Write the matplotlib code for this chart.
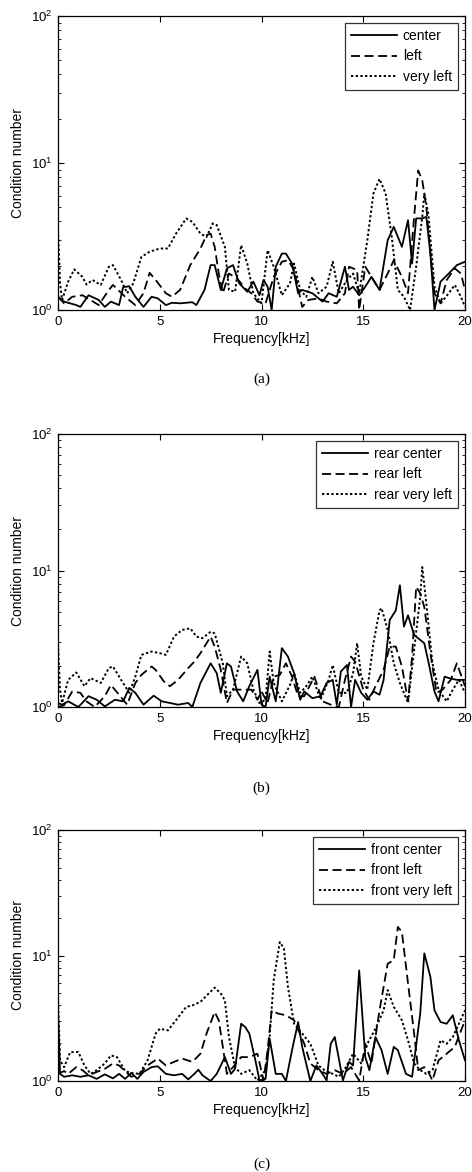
import matplotlib
matplotlib.use("Agg")
import matplotlib.pyplot as plt
from matplotlib.ticker import LogLocator, NullFormatter, FixedLocator

plt.rcParams['font.family'] = ['Liberation Sans', 'DejaVu Sans']

# ---------------- Panel (a) ----------------
a_center_f = [0, 0.3, 0.9, 1.1, 1.5, 2.0, 2.3, 2.6, 3.0, 3.2, 3.5, 3.8, 4.2, 4.6, 4.9, 5.3, 5.6, 6.0, 6.6, 6.8,
              7.2, 7.5, 7.7, 8.0, 8.3, 8.6, 8.9, 9.3, 9.6, 9.9, 10.1, 10.3, 10.5, 10.7, 11.0, 11.2, 11.5, 11.8,
              12.0, 12.5, 13.0, 13.3, 13.7, 14.1, 14.3, 14.5, 14.8, 15.1, 15.4, 15.8, 16.2, 16.5, 16.9, 17.2,
              17.4, 17.6, 17.9, 18.1, 18.3, 18.5, 18.8, 19.2, 19.6, 20.0]
a_center_v = [1.23, 1.14, 1.08, 1.05, 1.26, 1.17, 1.05, 1.14, 1.08, 1.43, 1.45, 1.23, 1.05, 1.23, 1.2, 1.08, 1.12,
              1.11, 1.13, 1.08, 1.37, 2.02, 2.02, 1.37, 1.92, 2.02, 1.52, 1.33, 1.56, 1.26, 1.6, 1.44, 1.0, 1.97,
              2.42, 2.42, 2.07, 1.3, 1.37, 1.3, 1.14, 1.3, 1.23, 1.97, 1.37, 1.44, 1.26, 1.44, 1.68, 1.37, 2.98,
              3.68, 2.69, 4.08, 2.07, 4.2, 4.2, 4.3, 2.42, 1.0, 1.56, 1.77, 2.02, 2.13]

a_left_f = [0, 0.3, 0.7, 1.2, 1.6, 2.0, 2.5, 2.7, 3.3, 3.8, 4.2, 4.5, 4.8, 5.3, 5.6, 6.0, 6.5, 7.0, 7.3, 7.5, 7.7,
            7.9, 8.1, 8.4, 8.8, 9.2, 9.5, 9.8, 10.2, 10.6, 11.0, 11.3, 11.6, 12.0, 12.3, 12.8, 13.2, 13.7, 14.1,
            14.3, 14.7, 14.8, 15.1, 15.5, 15.8, 16.2, 16.5, 16.9, 17.2, 17.5, 17.7, 17.9, 18.1, 18.3, 18.5, 18.8,
            19.1, 19.5, 19.8, 20.0]
a_left_v = [1.23, 1.11, 1.23, 1.26, 1.17, 1.08, 1.37, 1.48, 1.23, 1.08, 1.3, 1.79, 1.6, 1.3, 1.23, 1.37, 2.02,
            2.62, 3.23, 3.31, 2.69, 1.77, 1.3, 1.77, 1.64, 1.4, 1.3, 1.14, 1.11, 1.68, 2.13, 2.18, 1.87, 1.05,
            1.17, 1.2, 1.14, 1.11, 1.3, 1.97, 1.87, 1.0, 1.97, 1.6, 1.37, 1.77, 2.18, 1.68, 1.3, 4.3, 8.9, 7.6,
            5.0, 2.42, 1.3, 1.11, 1.6, 1.92, 1.77, 1.37]

a_vleft_f = [0, 0.1, 0.2, 0.5, 0.8, 1.2, 1.4, 1.7, 2.1, 2.5, 2.7, 3.1, 3.4, 3.7, 4.1, 4.5, 5.0, 5.4, 5.8, 6.3,
             6.6, 7.0, 7.3, 7.6, 7.8, 8.2, 8.4, 8.7, 9.0, 9.3, 9.6, 10.0, 10.3, 10.6, 11.0, 11.4, 11.6, 11.9,
             12.2, 12.5, 12.8, 13.2, 13.5, 13.8, 14.2, 14.5, 14.8, 15.2, 15.5, 15.8, 16.1, 16.4, 16.7, 17.0,
             17.3, 17.6, 17.9, 18.0, 18.2, 18.5, 18.8, 19.2, 19.5, 19.8, 20.0]
a_vleft_v = [3.5, 1.52, 1.17, 1.56, 1.89, 1.68, 1.49, 1.6, 1.48, 1.97, 2.02, 1.6, 1.3, 1.52, 2.3, 2.49, 2.62,
             2.62, 3.31, 4.19, 3.98, 3.31, 3.14, 3.88, 3.78, 2.69, 1.37, 1.33, 2.76, 2.07, 1.3, 1.11, 2.55,
             1.97, 1.26, 1.52, 2.07, 1.37, 1.23, 1.68, 1.3, 1.44, 2.13, 1.3, 1.6, 1.77, 1.3, 2.98, 6.2, 7.8,
             6.2, 3.14, 1.37, 1.23, 1.0, 1.97, 4.3, 6.2, 4.5, 1.44, 1.11, 1.3, 1.48, 1.23, 1.05]

# ---------------- Panel (b) ----------------
b_center_f = [0, 0.2, 0.5, 1.0, 1.5, 1.9, 2.3, 2.8, 3.2, 3.5, 3.8, 4.2, 4.7, 5.1, 5.5, 5.9, 6.4, 6.6, 7.0, 7.5,
              7.8, 8.0, 8.3, 8.5, 8.8, 9.1, 9.4, 9.8, 10.0, 10.2, 10.4, 10.7, 11.0, 11.3, 11.6, 11.9, 12.1,
              12.5, 12.9, 13.2, 13.5, 13.7, 13.9, 14.2, 14.4, 14.6, 14.9, 15.2, 15.5, 15.8, 16.0, 16.3, 16.6,
              16.8, 17.0, 17.2, 17.5, 17.8, 18.0, 18.2, 18.5, 18.7, 19.0, 19.2, 19.6, 20.0]
b_center_v = [1.07, 1.04, 1.1, 1.0, 1.2, 1.13, 1.01, 1.13, 1.1, 1.38, 1.27, 1.04, 1.21, 1.1, 1.07, 1.04, 1.07,
              1.0, 1.5, 2.09, 1.77, 1.27, 2.09, 1.98, 1.3, 1.1, 1.42, 1.87, 1.04, 1.0, 1.67, 1.1, 2.7, 2.34,
              1.77, 1.13, 1.3, 1.16, 1.2, 1.5, 1.58, 1.04, 1.82, 2.03, 1.0, 1.58, 1.27, 1.13, 1.3, 1.23, 1.58,
              4.34, 5.1, 7.8, 3.88, 4.7, 3.37, 3.1, 2.93, 2.15, 1.3, 1.1, 1.67, 1.63, 1.58, 1.58]

b_left_f = [0, 0.3, 0.7, 1.1, 1.4, 1.8, 2.3, 2.6, 3.0, 3.4, 3.8, 4.1, 4.6, 4.8, 5.2, 5.5, 5.9, 6.4, 6.7, 7.0,
            7.5, 7.7, 8.0, 8.3, 8.6, 9.0, 9.5, 9.8, 10.0, 10.3, 10.6, 10.9, 11.2, 11.5, 11.8, 12.1, 12.6,
            13.0, 13.4, 13.8, 14.1, 14.4, 14.6, 15.0, 15.3, 15.6, 16.0, 16.3, 16.6, 16.9, 17.2, 17.4, 17.6,
            17.8, 18.0, 18.3, 18.6, 18.9, 19.3, 19.6, 20.0]
b_left_v = [1.0, 1.03, 1.3, 1.27, 1.1, 1.0, 1.2, 1.45, 1.23, 1.04, 1.5, 1.72, 1.98, 1.87, 1.54, 1.42, 1.58,
            1.93, 2.15, 2.48, 3.28, 2.77, 1.87, 1.07, 1.34, 1.34, 1.34, 1.13, 1.3, 1.07, 1.67, 1.72, 2.09,
            1.67, 1.2, 1.2, 1.67, 1.1, 1.04, 1.0, 1.58, 2.34, 2.15, 1.34, 1.13, 1.42, 1.87, 2.77, 2.77, 1.98,
            1.1, 2.34, 7.6, 6.8, 5.4, 2.48, 1.27, 1.34, 1.58, 2.09, 1.42]

b_vleft_f = [0, 0.1, 0.2, 0.5, 0.9, 1.3, 1.6, 2.1, 2.5, 2.7, 3.1, 3.5, 3.8, 4.1, 4.6, 5.0, 5.3, 5.7, 6.1, 6.5,
             6.8, 7.1, 7.5, 7.7, 8.1, 8.3, 8.6, 9.0, 9.3, 9.6, 9.9, 10.2, 10.4, 10.6, 11.0, 11.4, 11.6, 11.9,
             12.2, 12.5, 12.9, 13.3, 13.5, 13.8, 14.2, 14.5, 14.7, 14.9, 15.2, 15.5, 15.8, 15.9, 16.2, 16.5,
             16.8, 17.2, 17.5, 17.8, 17.9, 18.1, 18.4, 18.7, 19.1, 19.4, 19.7, 20.0]
b_vleft_v = [2.9, 1.34, 1.07, 1.58, 1.79, 1.42, 1.63, 1.5, 1.93, 1.98, 1.58, 1.27, 1.67, 2.41, 2.55, 2.48,
             2.41, 3.28, 3.67, 3.77, 3.28, 3.19, 3.56, 3.46, 2.09, 1.2, 1.34, 2.34, 2.09, 1.34, 1.07, 1.13,
             2.55, 1.5, 1.1, 1.45, 1.77, 1.27, 1.42, 1.67, 1.13, 1.58, 2.03, 1.27, 1.27, 1.77, 2.93, 1.67,
             1.34, 2.93, 5.1, 5.3, 3.67, 2.09, 1.5, 1.07, 2.62, 6.4, 10.6, 5.75, 2.09, 1.34, 1.1, 1.34, 1.58,
             1.27]

# ---------------- Panel (c) ----------------
c_center_f = [0, 0.1, 0.3, 0.7, 1.1, 1.5, 1.9, 2.3, 2.7, 3.0, 3.3, 3.6, 3.9, 4.2, 4.6, 4.9, 5.3, 5.7, 6.1, 6.4,
              6.7, 6.9, 7.1, 7.5, 7.8, 8.2, 8.5, 8.7, 9.0, 9.2, 9.4, 9.7, 9.9, 10.2, 10.4, 10.7, 11.0, 11.2,
              11.5, 11.8, 12.0, 12.4, 12.7, 13.0, 13.2, 13.4, 13.6, 13.8, 14.0, 14.3, 14.5, 14.8, 15.1, 15.3,
              15.6, 15.9, 16.2, 16.5, 16.7, 17.1, 17.4, 17.8, 18.0, 18.3, 18.5, 18.8, 19.1, 19.4, 19.7, 20.0]
c_center_v = [3.66, 1.14, 1.08, 1.11, 1.08, 1.11, 1.04, 1.13, 1.05, 1.14, 1.04, 1.16, 1.04, 1.18, 1.29, 1.31,
              1.14, 1.11, 1.14, 1.03, 1.14, 1.23, 1.11, 1.0, 1.14, 1.55, 1.14, 1.25, 2.86, 2.69, 2.39, 1.46,
              1.01, 1.04, 2.18, 1.14, 1.14, 1.0, 1.76, 2.95, 1.87, 1.0, 1.33, 1.14, 1.01, 1.98, 2.24, 1.51,
              1.01, 1.42, 1.33, 7.6, 1.55, 1.22, 2.24, 1.76, 1.14, 1.87, 1.76, 1.14, 1.08, 3.45, 10.4, 6.75,
              3.66, 2.95, 2.86, 3.34, 2.11, 1.46]

c_left_f = [0, 0.3, 0.5, 0.9, 1.2, 1.5, 1.9, 2.3, 2.7, 3.0, 3.3, 3.6, 4.0, 4.4, 4.9, 5.3, 5.7, 6.1, 6.6, 7.0,
            7.3, 7.7, 7.9, 8.1, 8.3, 8.6, 9.0, 9.4, 9.8, 10.1, 10.3, 10.5, 10.8, 11.2, 11.6, 12.1, 12.4, 12.8,
            13.2, 13.6, 14.0, 14.4, 14.8, 15.1, 15.4, 15.8, 16.2, 16.5, 16.7, 16.9, 17.2, 17.5, 17.7, 18.0,
            18.2, 18.4, 18.7, 19.1, 19.5, 20.0]
c_left_v = [1.14, 1.2, 1.14, 1.29, 1.22, 1.11, 1.18, 1.25, 1.38, 1.33, 1.2, 1.08, 1.14, 1.33, 1.51, 1.33,
            1.42, 1.51, 1.42, 1.65, 2.39, 3.55, 3.05, 1.87, 1.14, 1.29, 1.55, 1.55, 1.65, 1.01, 1.76, 3.66,
            3.45, 3.34, 3.05, 1.98, 1.38, 1.22, 1.14, 1.22, 1.14, 1.29, 1.01, 1.98, 1.38, 3.66, 8.6, 9.2,
            16.9, 15.4, 6.0, 2.39, 1.22, 1.29, 1.18, 1.01, 1.46, 1.65, 1.87, 3.05]

c_vleft_f = [0, 0.1, 0.3, 0.6, 1.0, 1.3, 1.6, 1.9, 2.3, 2.6, 2.9, 3.3, 3.6, 4.0, 4.4, 4.8, 5.0, 5.4, 5.8, 6.3,
             6.6, 7.0, 7.4, 7.7, 8.0, 8.2, 8.4, 8.7, 9.0, 9.4, 9.8, 10.2, 10.4, 10.6, 10.9, 11.1, 11.3, 11.6,
             12.0, 12.4, 12.8, 13.1, 13.5, 13.8, 14.1, 14.5, 14.9, 15.2, 15.6, 16.0, 16.2, 16.5, 16.9, 17.2,
             17.5, 17.8, 18.1, 18.4, 18.8, 19.1, 19.4, 19.7, 20.0]
c_vleft_v = [4.67, 1.46, 1.29, 1.7, 1.7, 1.33, 1.14, 1.22, 1.38, 1.6, 1.55, 1.2, 1.16, 1.14, 1.46, 2.39, 2.61,
             2.53, 3.05, 3.9, 4.0, 4.27, 4.97, 5.55, 4.97, 4.4, 2.24, 1.29, 1.14, 1.22, 1.01, 1.22, 2.24, 6.35,
             12.8, 11.4, 5.6, 2.86, 2.39, 1.98, 1.33, 1.22, 1.14, 1.08, 1.25, 1.65, 1.38, 1.98, 2.61, 3.66, 5.3,
             3.9, 3.05, 2.11, 1.38, 1.22, 1.14, 1.22, 2.11, 1.98, 2.24, 2.86, 3.66]

x_ticks = [0, 5, 10, 15, 20]
panel_labels = ['(a)', '(b)', '(c)']
legend_a = ['center', 'left', 'very left']
legend_b = ['rear center', 'rear left', 'rear very left']
legend_c = ['front center', 'front left', 'front very left']
xlabel = 'Frequency[kHz]'
ylabel = 'Condition number'

W, H = 472, 1172
fig = plt.figure(figsize=(W / 100, H / 100), dpi=100)

# axes boxes in pixels: left, right, top, bottom
boxes = [(58, 465, 16, 310), (58, 465, 434, 707), (58, 465, 830, 1081)]
caption_y = [379, 788, 1164]

panels = [
    ((a_center_f, a_center_v), (a_left_f, a_left_v), (a_vleft_f, a_vleft_v), legend_a),
    ((b_center_f, b_center_v), (b_left_f, b_left_v), (b_vleft_f, b_vleft_v), legend_b),
    ((c_center_f, c_center_v), (c_left_f, c_left_v), (c_vleft_f, c_vleft_v), legend_c),
]

styles = [dict(linestyle='-', lw=1.3),
          dict(linestyle=(0, (5, 2.5)), lw=1.3),
          dict(linestyle=(0, (1.2, 1.2)), lw=1.4)]

for (s1, s2, s3, labels), (l, r, t, b), cy, cap in zip(panels, boxes, caption_y, panel_labels):
    ax = fig.add_axes([l / W, 1 - b / H, (r - l) / W, (b - t) / H])
    for (f, v), st, lab in zip((s1, s2, s3), styles, labels):
        ax.plot(f, v, color='black', label=lab, **st)
    ax.set_yscale('log')
    ax.set_ylim(1, 100)
    ax.set_xlim(0, 20)
    ax.xaxis.set_major_locator(FixedLocator(x_ticks))
    ax.yaxis.set_major_locator(LogLocator(base=10, numticks=5))
    ax.yaxis.set_minor_locator(LogLocator(base=10, subs=range(2, 10), numticks=20))
    ax.yaxis.set_minor_formatter(NullFormatter())
    ax.tick_params(which='both', direction='in', top=True, right=True, labelsize=9.5, pad=4)
    ax.tick_params(which='major', length=4, width=0.8)
    ax.tick_params(which='minor', length=2, width=0.6)
    for sp in ax.spines.values():
        sp.set_linewidth(0.9)
    ax.set_xlabel(xlabel, fontsize=10, labelpad=3)
    ax.set_ylabel(ylabel, fontsize=10, labelpad=4)
    leg = ax.legend(loc='upper right', fontsize=10, frameon=True, fancybox=False,
                    edgecolor='black', handlelength=3.3, handletextpad=0.4,
                    borderpad=0.45, labelspacing=0.45, borderaxespad=0.5)
    leg.get_frame().set_linewidth(0.9)
    fig.text((l + r) / 2 / W, 1 - cy / H, cap, ha='center', va='center',
             fontsize=11, family=['Liberation Serif', 'DejaVu Serif'])

fig.savefig('out.png', dpi=100)
